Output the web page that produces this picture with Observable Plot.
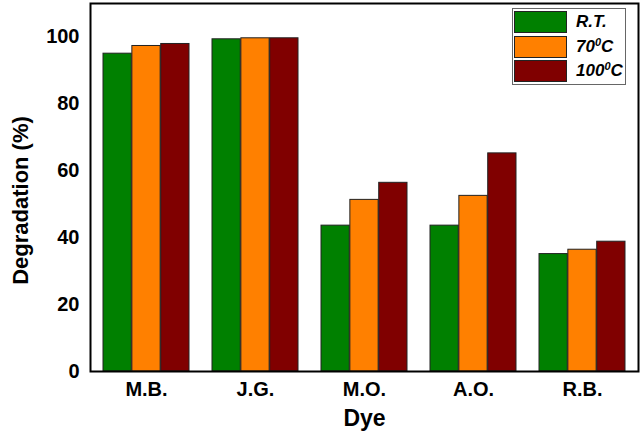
<!DOCTYPE html>
<html>
<head>
<meta charset="utf-8">
<script src="https://cdn.jsdelivr.net/npm/d3@7"></script>
<script src="https://cdn.jsdelivr.net/npm/@observablehq/plot@0.6"></script>
<style>
  body { margin: 0; background: #fff; }
  #wrap { position: relative; width: 644px; height: 440px; font-family: "Liberation Sans", Arial, sans-serif; }
  #legend { position: absolute; left: 512px; top: 8px; width: 114px; height: 77px; border: 1px solid #666; background: #fff; box-sizing: border-box; }
  .row { position: absolute; left: 1px; height: 22px; }
  .sw { position: absolute; left: 0; top: 0; width: 53px; height: 22px; border: 1px solid #222; box-sizing: border-box; }
  .lab { position: absolute; left: 62px; top: 0; line-height: 22px; font-size: 17px; font-weight: bold; font-style: italic; white-space: nowrap; color: #000; }
  .lab sup { font-size: 11px; vertical-align: 0; position: relative; top: -6px; }
</style>
</head>
<body>
<div id="wrap"></div>
<script>
const dyes = ["M.B.", "J.G.", "M.O.", "A.O.", "R.B."];
const seriesKeys = ["R.T.", "70C", "100C"];
const seriesLabels = ["R.T.", "70<sup>0</sup>C", "100<sup>0</sup>C"];
const rtValues = [95.0, 99.3, 43.6, 43.6, 35.1];
const t70Values = [97.3, 99.6, 51.3, 52.5, 36.4];
const t100Values = [97.9, 99.6, 56.4, 65.2, 38.8];
const yTicks = [0, 20, 40, 60, 80, 100];
const colors = ["#008000", "#ff8000", "#800000"];
const yLabel = "Degradation (%)";
const xLabel = "Dye";

const valueSets = [rtValues, t70Values, t100Values];

const W = 644, H = 440, mL = 90, mR = 6, mT = 3, mB = 69;
const xOpts = {type: "band", domain: dyes, paddingInner: 0.21, paddingOuter: 0.105};
const bw = Plot.scale({x: {...xOpts, range: [mL, W - mR]}}).bandwidth;
const sub = bw / seriesKeys.length;

const barMarks = seriesKeys.map((s, j) =>
  Plot.barY(dyes.map((d, i) => ({dye: d, series: s, value: valueSets[j][i]})), {
    x: "dye", y: "value", fill: "series", stroke: "#222", strokeWidth: 1,
    insetLeft: j * sub, insetRight: (seriesKeys.length - 1 - j) * sub
  })
);

const chart = Plot.plot({
  width: W,
  height: H,
  marginLeft: mL,
  marginRight: mR,
  marginTop: mT,
  marginBottom: mB,
  style: {fontFamily: "'Liberation Sans', Arial, sans-serif", background: "#fff", color: "#000"},
  x: {...xOpts, axis: null},
  y: {domain: [0, 110], axis: null},
  color: {domain: seriesKeys, range: colors},
  marks: [
    ...barMarks,
    Plot.axisY({ticks: yTicks, tickSize: 0, tickPadding: 11, fontSize: 20, fontWeight: "bold", label: null}),
    Plot.axisX({anchor: "bottom", tickSize: 0, tickPadding: 10, fontSize: 20, fontWeight: "bold", label: null}),
    Plot.frame({stroke: "#000", strokeWidth: 2}),
    Plot.text([yLabel], {frameAnchor: "left", rotate: -90, dx: -70, dy: 13, fontSize: "22px", fontWeight: "bold", textAnchor: "middle"}),
    Plot.text([xLabel], {frameAnchor: "bottom", dy: 54, fontSize: "23px", fontWeight: "bold", textAnchor: "middle"})
  ]
});

const wrap = document.getElementById("wrap");
wrap.appendChild(chart);

const legend = document.createElement("div");
legend.id = "legend";
seriesKeys.forEach((s, j) => {
  const row = document.createElement("div");
  row.className = "row";
  row.style.top = (2 + j * 24.7) + "px";
  const sw = document.createElement("div");
  sw.className = "sw";
  sw.style.background = colors[j];
  const lab = document.createElement("div");
  lab.className = "lab";
  lab.innerHTML = seriesLabels[j];
  row.appendChild(sw);
  row.appendChild(lab);
  legend.appendChild(row);
});
wrap.appendChild(legend);
</script>
</body>
</html>
